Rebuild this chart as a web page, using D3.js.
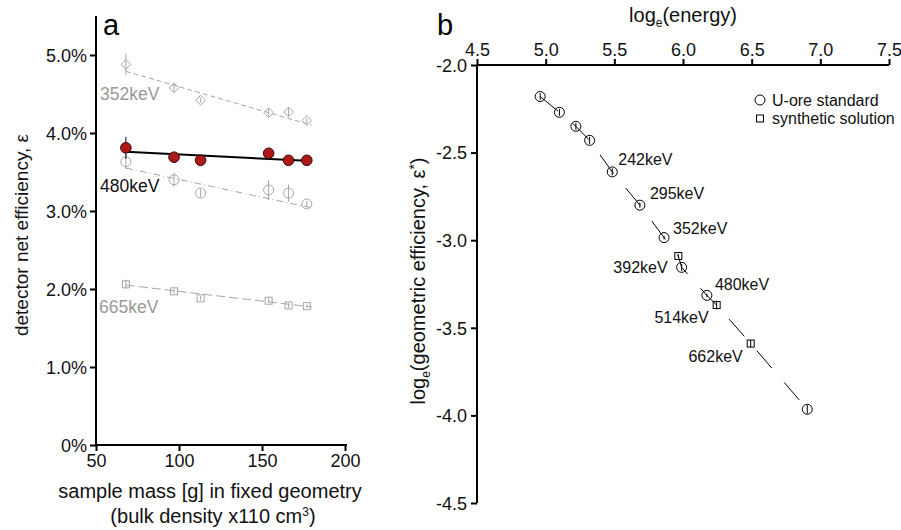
<!DOCTYPE html>
<html>
<head>
<meta charset="utf-8">
<script src="https://cdn.jsdelivr.net/npm/d3@7"></script>
<style>
  body { margin: 0; background: #fff; }
  text { font-family: "Liberation Sans", Arial, sans-serif; }
</style>
</head>
<body>
<script>
let width = 901,
    height = 530;

// ---- panel a data ----
let massA = [68, 97, 113, 154, 166, 177];
let eff352 = [4.88, 4.58, 4.42, 4.26, 4.27, 4.16];
let err352 = [0.14, 0.05, 0.03, 0.05, 0.06, 0.03];
let eff480 = [3.81, 3.69, 3.65, 3.74, 3.65, 3.65];
let err480 = [0.14, 0.03, 0.03, 0.03, 0.03, 0.03];
let eff480g = [3.63, 3.40, 3.23, 3.27, 3.23, 3.09];
let err480g = [0.09, 0.09, 0.05, 0.13, 0.11, 0.04];
let eff665 = [2.06, 1.97, 1.88, 1.85, 1.79, 1.78];
let err665 = [0.06, 0.03, 0.03, 0.03, 0.03, 0.02];
// fitted lines, value at first and last mass
let fitMass = [68, 180];
let fit352 = [4.79, 4.10];
let fit480 = [3.76, 3.64];
let fit480g = [3.55, 3.04];
let fit665 = [2.05, 1.77];
let ticksA_y = [0, 1, 2, 3, 4, 5];
let ticksA_x = [50, 100, 150, 200];

// ---- panel b data ----
let lnE = [4.96, 5.10, 5.22, 5.32, 5.485, 5.686, 5.862, 5.966, 5.99, 6.174, 6.245, 6.493, 6.905];
let lnEff = [-2.18, -2.27, -2.35, -2.43, -2.61, -2.80, -2.985, -3.09, -3.155, -3.315, -3.37, -3.59, -3.965];
let sourceB = ["ore", "ore", "ore", "ore", "ore", "ore", "ore", "syn", "ore", "ore", "syn", "syn", "ore"];
let errB = [0.02, 0.02, 0.02, 0.02, 0.02, 0.015, 0.01, 0.01, 0.02, 0.01, 0.025, 0.02, 0.025];
let labelsB = [
  {text: "242keV", i: 4},
  {text: "295keV", i: 5},
  {text: "352keV", i: 6},
  {text: "392keV", i: 8},
  {text: "480keV", i: 9},
  {text: "514keV", i: 10},
  {text: "662keV", i: 11}
];
let ticksB_x = [4.5, 5.0, 5.5, 6.0, 6.5, 7.0, 7.5];
let ticksB_y = [-2.0, -2.5, -3.0, -3.5, -4.0, -4.5];

let svg = d3.select("body")
            .append("svg")
            .attr("width", width)
            .attr("height", height);

let grey = "#a6a6a6";

// ================= panel a =================
let xA = d3.scaleLinear().domain([50, 200]).range([96, 345]);
let yA = d3.scaleLinear().domain([0, 5.5]).range([445, 16]);

let gA = svg.append("g");

gA.append("g")
  .attr("transform", "translate(96,0)")
  .call(d3.axisLeft(yA).tickValues(ticksA_y).tickSize(6)
        .tickFormat(function(d) { return d === 0 ? "0%" : d3.format(".1f")(d) + "%"; }))
  .call(function(g) {
    g.select(".domain").attr("d", "M0,445V16").attr("stroke-width", 2);
    g.selectAll(".tick line").attr("stroke-width", 2);
    g.selectAll(".tick text").attr("font-size", 18).attr("fill", "#111").attr("x", -9).attr("dy", "0.35em");
  });

gA.append("g")
  .attr("transform", "translate(0,445)")
  .call(d3.axisBottom(xA).tickValues(ticksA_x).tickSize(6))
  .call(function(g) {
    g.select(".domain").attr("d", "M96,0H347").attr("stroke-width", 2);
    g.selectAll(".tick line").attr("stroke-width", 2);
    g.selectAll(".tick text").attr("font-size", 18).attr("fill", "#111").attr("y", 9);
  });

function fitLine(vals, color, dash, w) {
  gA.append("line")
    .attr("x1", xA(fitMass[0])).attr("y1", yA(vals[0]))
    .attr("x2", xA(fitMass[1])).attr("y2", yA(vals[1]))
    .attr("stroke", color)
    .attr("stroke-width", w)
    .attr("stroke-dasharray", dash);
}

function errBars(vals, errs, color) {
  gA.selectAll(null)
    .data(massA)
    .enter()
    .append("line")
    .attr("x1", function(d) { return xA(d); })
    .attr("x2", function(d) { return xA(d); })
    .attr("y1", function(d, i) { return yA(vals[i] - errs[i]); })
    .attr("y2", function(d, i) { return yA(vals[i] + errs[i]); })
    .attr("stroke", color)
    .attr("stroke-width", 1);
}

fitLine(fit352, grey, "5,3", 1);
fitLine(fit480g, grey, "7,3,1,3", 1);
fitLine(fit665, grey, "9,4", 1);

// 352keV diamonds
errBars(eff352, err352, grey);
gA.selectAll(null)
  .data(massA)
  .enter()
  .append("path")
  .attr("d", d3.symbol(d3.symbolDiamond2, 60))
  .attr("transform", function(d, i) { return "translate(" + xA(d) + "," + yA(eff352[i]) + ")"; })
  .attr("fill", "none")
  .attr("stroke", grey)
  .attr("stroke-width", 1);

// 480keV grey circles
errBars(eff480g, err480g, grey);
gA.selectAll(null)
  .data(massA)
  .enter()
  .append("circle")
  .attr("cx", function(d) { return xA(d); })
  .attr("cy", function(d, i) { return yA(eff480g[i]); })
  .attr("r", 5)
  .attr("fill", "none")
  .attr("stroke", grey);

// 665keV squares
errBars(eff665, err665, grey);
gA.selectAll(null)
  .data(massA)
  .enter()
  .append("rect")
  .attr("x", function(d) { return xA(d) - 3.5; })
  .attr("y", function(d, i) { return yA(eff665[i]) - 3.5; })
  .attr("width", 7)
  .attr("height", 7)
  .attr("fill", "none")
  .attr("stroke", grey);

// 480keV red
fitLine(fit480, "#000", null, 2);
errBars(eff480, err480, "#000");
gA.selectAll(null)
  .data(massA)
  .enter()
  .append("circle")
  .attr("cx", function(d) { return xA(d); })
  .attr("cy", function(d, i) { return yA(eff480[i]); })
  .attr("r", 5.3)
  .attr("fill", "#b01717")
  .attr("stroke", "#2a0a0a")
  .attr("stroke-width", 1);

gA.append("text").attr("x", 100).attr("y", 100).attr("font-size", 17.5).attr("fill", "#999").text("352keV");
gA.append("text").attr("x", 100).attr("y", 192).attr("font-size", 17.5).attr("fill", "#111").text("480keV");
gA.append("text").attr("x", 99).attr("y", 313).attr("font-size", 17.5).attr("fill", "#999").text("665keV");
gA.append("text").attr("x", 103).attr("y", 35).attr("font-size", 29).attr("fill", "#000").text("a");

gA.append("text")
  .attr("transform", "translate(28,235) rotate(-90)")
  .attr("text-anchor", "middle")
  .attr("font-size", 19)
  .attr("fill", "#111")
  .text("detector net efficiency, \u03b5");

gA.append("text")
  .attr("x", 210).attr("y", 498)
  .attr("text-anchor", "middle")
  .attr("font-size", 20)
  .attr("fill", "#111")
  .text("sample mass [g] in fixed geometry");
let t2 = gA.append("text")
  .attr("x", 213).attr("y", 523)
  .attr("text-anchor", "middle")
  .attr("font-size", 20)
  .attr("fill", "#111");
t2.append("tspan").text("(bulk density x110 cm");
t2.append("tspan").attr("font-size", 12).attr("dy", -7).text("3");
t2.append("tspan").attr("dy", 7).text(")");

// ================= panel b =================
let xB = d3.scaleLinear().domain([4.5, 7.5]).range([477, 889]);
let yB = d3.scaleLinear().domain([-4.5, -2.0]).range([503, 65]);

let gB = svg.append("g");

gB.append("g")
  .attr("transform", "translate(477,0)")
  .call(d3.axisLeft(yB).tickValues(ticksB_y).tickSize(6).tickFormat(d3.format(".1f")))
  .call(function(g) {
    g.select(".domain").attr("d", "M0,503V65").attr("stroke-width", 2);
    g.selectAll(".tick line").attr("stroke-width", 2);
    g.selectAll(".tick text").attr("font-size", 18).attr("fill", "#111").attr("x", -10).attr("dy", "0.35em")
      .text(function(d) { return d3.format(".1f")(d).replace("\u2212", "-"); });
  });

gB.append("g")
  .attr("transform", "translate(0,65)")
  .call(d3.axisTop(xB).tickValues(ticksB_x).tickSize(6).tickFormat(d3.format(".1f")))
  .call(function(g) {
    g.select(".domain").attr("d", "M477,0H889").attr("stroke-width", 2);
    g.selectAll(".tick line").attr("stroke-width", 2);
    g.selectAll(".tick text").attr("font-size", 18).attr("fill", "#111").attr("y", -9);
  });

// connecting dashed path
let lineB = d3.line()
  .x(function(d, i) { return xB(d); })
  .y(function(d, i) { return yB(lnEff[i]); });
gB.append("path")
  .attr("d", lineB(lnE))
  .attr("fill", "none")
  .attr("stroke", "#000")
  .attr("stroke-width", 1)
  .attr("stroke-dasharray", "23,19");

// error bars
gB.selectAll(null)
  .data(lnE)
  .enter()
  .append("line")
  .attr("x1", function(d) { return xB(d); })
  .attr("x2", function(d) { return xB(d); })
  .attr("y1", function(d, i) { return yB(lnEff[i] - errB[i]); })
  .attr("y2", function(d, i) { return yB(lnEff[i] + errB[i]); })
  .attr("stroke", "#000")
  .attr("stroke-width", 1);

gB.selectAll(null)
  .data(lnE.filter(function(d, i) { return sourceB[i] === "ore"; }))
  .enter()
  .append("circle")
  .attr("cx", function(d) { return xB(d); })
  .attr("cy", function(d) { return yB(lnEff[lnE.indexOf(d)]); })
  .attr("r", 5)
  .attr("fill", "none")
  .attr("stroke", "#000")
  .attr("stroke-width", 1);

gB.selectAll(null)
  .data(lnE.filter(function(d, i) { return sourceB[i] === "syn"; }))
  .enter()
  .append("rect")
  .attr("x", function(d) { return xB(d) - 3.5; })
  .attr("y", function(d) { return yB(lnEff[lnE.indexOf(d)]) - 3.5; })
  .attr("width", 7)
  .attr("height", 7)
  .attr("fill", "none")
  .attr("stroke", "#000")
  .attr("stroke-width", 1);

// energy labels (offsets from the point)
let labelOff = {
  "242keV": [6, -7, "start"],
  "295keV": [10, -6, "start"],
  "352keV": [9, -4, "start"],
  "392keV": [-14, 6, "end"],
  "480keV": [8, -5, "start"],
  "514keV": [-8, 18, "end"],
  "662keV": [-8, 18, "end"]
};
gB.selectAll(null)
  .data(labelsB)
  .enter()
  .append("text")
  .attr("x", function(d) { return xB(lnE[d.i]) + labelOff[d.text][0]; })
  .attr("y", function(d) { return yB(lnEff[d.i]) + labelOff[d.text][1]; })
  .attr("text-anchor", function(d) { return labelOff[d.text][2]; })
  .attr("font-size", 16)
  .attr("fill", "#111")
  .text(function(d) { return d.text; });

// legend
gB.append("circle").attr("cx", 760).attr("cy", 100).attr("r", 5).attr("fill", "none").attr("stroke", "#000");
gB.append("text").attr("x", 772).attr("y", 105.5).attr("font-size", 16).attr("fill", "#111").text("U-ore standard");
gB.append("rect").attr("x", 756.5).attr("y", 115).attr("width", 7).attr("height", 7).attr("fill", "none").attr("stroke", "#000");
gB.append("text").attr("x", 772).attr("y", 124).attr("font-size", 16).attr("fill", "#111").text("synthetic solution");

gB.append("text").attr("x", 437).attr("y", 35).attr("font-size", 29).attr("fill", "#000").text("b");

let tt = gB.append("text")
  .attr("x", 683).attr("y", 22)
  .attr("text-anchor", "middle")
  .attr("font-size", 20)
  .attr("fill", "#111");
tt.append("tspan").text("log");
tt.append("tspan").attr("font-size", 12).attr("dy", 5).text("e");
tt.append("tspan").attr("dy", -5).text("(energy)");

let ty = gB.append("text")
  .attr("transform", "translate(425,281) rotate(-90)")
  .attr("text-anchor", "middle")
  .attr("font-size", 20)
  .attr("fill", "#111");
ty.append("tspan").text("log");
ty.append("tspan").attr("font-size", 12).attr("dy", 5).text("e");
ty.append("tspan").attr("dy", -5).text("(geometric efficiency, \u03b5");
ty.append("tspan").attr("font-size", 14).attr("dy", -6).text("*");
ty.append("tspan").attr("dy", 6).text(")");
</script>
</body>
</html>
